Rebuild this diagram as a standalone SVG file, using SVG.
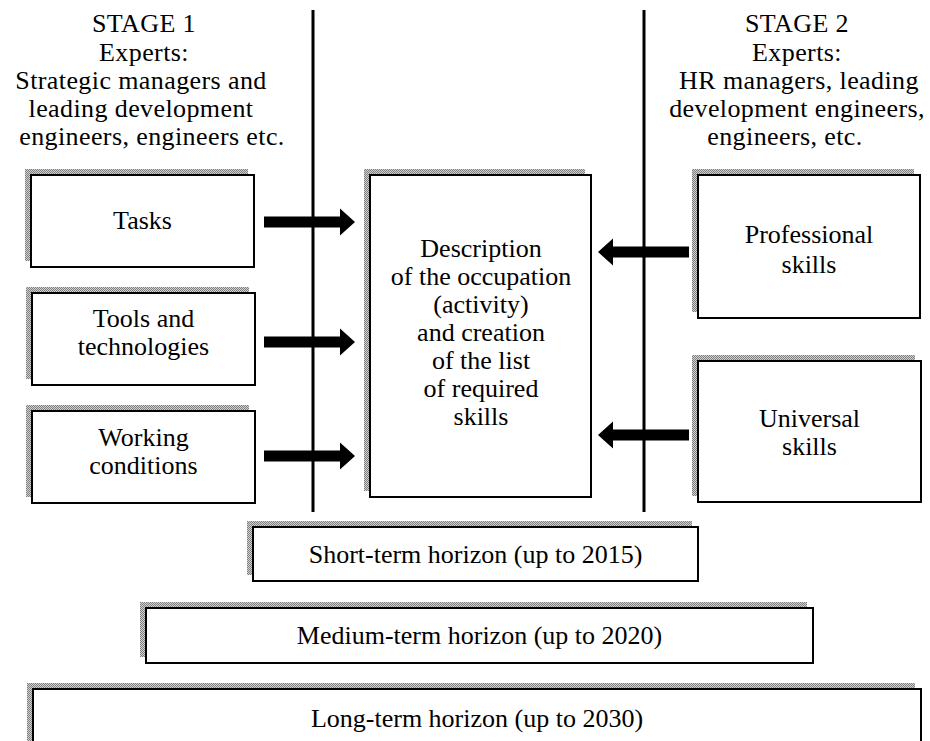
<svg xmlns="http://www.w3.org/2000/svg" width="930" height="741" viewBox="0 0 930 741">
<defs>
<pattern id="hatch" width="2" height="2" patternUnits="userSpaceOnUse">
<rect width="2" height="2" fill="#d0d0d0"/>
<rect width="1" height="1" fill="#808080"/>
<rect x="1" y="1" width="1" height="1" fill="#808080"/>
</pattern>
<polygon id="arrR" points="0,-5.5 76,-5.5 76,-13.5 91,0 76,13.5 76,5.5 0,5.5"/>
</defs>
<style>
text{font-family:"Liberation Serif","Times New Roman",serif;font-size:26px;fill:#000;text-anchor:middle}
.hdr{letter-spacing:0.4px}
.shadow{fill:url(#hatch)}
.box{fill:#fff;stroke:#000;stroke-width:2}
.div{stroke:#000;stroke-width:3}
.arrow{fill:#000}
</style>
<rect width="930" height="741" fill="#fff"/>

<g id="stage1" class="hdr">
<text x="144" y="32">STAGE 1</text>
<text x="144" y="61">Experts:</text>
<text x="141" y="89">Strategic managers and</text>
<text x="141" y="117">leading development</text>
<text x="152" y="145">engineers, engineers etc.</text>
</g>
<g id="stage2" class="hdr">
<text x="797" y="32">STAGE 2</text>
<text x="797" y="61">Experts:</text>
<text x="799" y="89">HR managers, leading</text>
<text x="797" y="117">development engineers,</text>
<text x="785" y="145">engineers, etc.</text>
</g>

<g id="dividers">
<line class="div" x1="313" y1="10" x2="313" y2="512"/>
<line class="div" x1="644" y1="10" x2="644" y2="512"/>
</g>

<g id="tasks">
<rect class="shadow" x="25" y="169" width="223" height="92"/>
<rect class="box" x="31" y="175" width="223" height="92"/>
<text x="142.5" y="229">Tasks</text>
</g>
<g id="tools">
<rect class="shadow" x="26" y="287" width="223" height="92"/>
<rect class="box" x="32" y="293" width="223" height="92"/>
<text x="143.5" y="327">Tools and</text>
<text x="143.5" y="355">technologies</text>
</g>
<g id="working">
<rect class="shadow" x="26" y="405" width="223" height="92"/>
<rect class="box" x="32" y="411" width="223" height="92"/>
<text x="143.5" y="446">Working</text>
<text x="143.5" y="474">conditions</text>
</g>

<g id="description">
<rect class="shadow" x="364" y="169" width="221" height="322"/>
<rect class="box" x="370" y="175" width="221" height="322"/>
<text x="481" y="257">Description</text>
<text x="481" y="285">of the occupation</text>
<text x="481" y="313">(activity)</text>
<text x="481" y="341">and creation</text>
<text x="481" y="369">of the list</text>
<text x="481" y="397">of required</text>
<text x="481" y="425">skills</text>
</g>

<g id="professional">
<rect class="shadow" x="692" y="169" width="222" height="143"/>
<rect class="box" x="698" y="175" width="222" height="143"/>
<text x="809" y="243">Professional</text>
<text x="809" y="273">skills</text>
</g>
<g id="universal">
<rect class="shadow" x="692" y="355" width="223" height="141"/>
<rect class="box" x="698" y="361" width="223" height="141"/>
<text x="809.5" y="427">Universal</text>
<text x="809.5" y="455">skills</text>
</g>

<g id="short-term">
<rect class="shadow" x="247" y="521" width="445" height="54"/>
<rect class="box" x="253" y="527" width="445" height="54"/>
<text x="475.5" y="563">Short-term horizon (up to 2015)</text>
</g>
<g id="medium-term">
<rect class="shadow" x="140" y="602" width="667" height="55"/>
<rect class="box" x="146" y="608" width="667" height="55"/>
<text x="479.5" y="644">Medium-term horizon (up to 2020)</text>
</g>
<g id="long-term">
<rect class="shadow" x="27" y="683" width="888" height="70"/>
<rect class="box" x="33" y="689" width="888" height="70"/>
<text x="477" y="727">Long-term horizon (up to 2030)</text>
</g>

<g id="connectors">
<use href="#arrR" class="arrow" transform="translate(264,222)"/>
<use href="#arrR" class="arrow" transform="translate(264,342)"/>
<use href="#arrR" class="arrow" transform="translate(264,456)"/>
<use href="#arrR" class="arrow" transform="translate(689,252) scale(-1,1)"/>
<use href="#arrR" class="arrow" transform="translate(689,435) scale(-1,1)"/>
</g>
</svg>
